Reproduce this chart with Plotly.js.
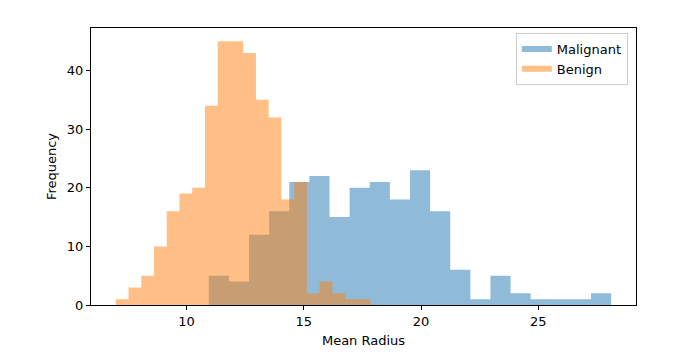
<!DOCTYPE html>
<html>
<head>
<meta charset="utf-8">
<script src="https://cdn.plot.ly/plotly-3.0.1.min.js"></script>
<style>html,body{margin:0;padding:0;background:#fff;}</style>
</head>
<body>
<div id="chart" style="width:700px;height:359px;"></div>
<script>
// Histogram counts (20 bins each) for mean radius
const malignantRange = [10.95, 28.11];
const malignantCounts = [5, 4, 12, 16, 21, 22, 15, 20, 21, 18, 23, 16, 6, 1, 5, 2, 1, 1, 1, 2];
const benignRange = [6.981, 17.85];
const benignCounts = [1, 3, 5, 10, 16, 19, 20, 34, 45, 45, 43, 35, 32, 18, 21, 2, 4, 2, 1, 1];
const seriesNames = ["Malignant", "Benign"];
const xTicks = [10, 15, 20, 25];
const yTicks = [0, 10, 20, 30, 40];

// step outline from bin edges and counts
function steps(range, counts) {
  const w = (range[1] - range[0]) / counts.length;
  const x = [], y = [];
  for (let i = 0; i <= counts.length; i++) {
    x.push(range[0] + w * i);
    y.push(counts[Math.min(i, counts.length - 1)]);
  }
  return {x: x, y: y};
}
const m = steps(malignantRange, malignantCounts);
const b = steps(benignRange, benignCounts);

const font = {family: "DejaVu Sans, sans-serif", size: 13, color: "#000"};
const data = [
  {type: "scatter", mode: "none", name: seriesNames[0], x: m.x, y: m.y,
   line: {shape: "hv", width: 0}, fill: "tozeroy", fillcolor: "rgba(31,119,180,0.5)"},
  {type: "scatter", mode: "none", name: seriesNames[1], x: b.x, y: b.y,
   line: {shape: "hv", width: 0}, fill: "tozeroy", fillcolor: "rgba(255,127,14,0.5)"}
];
const layout = {
  width: 700, height: 359,
  margin: {l: 91, r: 64, t: 28, b: 54},
  paper_bgcolor: "#fff", plot_bgcolor: "#fff",
  font: font,
  showlegend: true,
  legend: {x: 0.985, y: 0.982, xanchor: "right", yanchor: "top",
    bordercolor: "#cccccc", borderwidth: 1, bgcolor: "rgba(255,255,255,0.8)",
    font: {family: "DejaVu Sans, sans-serif", size: 13, color: "#000"},
    traceorder: "normal", itemwidth: 30},
  xaxis: {range: [5.925, 29.17], tickvals: xTicks, ticktext: xTicks.map(String),
    showgrid: false, zeroline: false, showline: true, mirror: true, linecolor: "#000", linewidth: 1,
    ticks: "outside", ticklen: 4, tickcolor: "#000",
    title: {text: "Mean Radius", font: font, standoff: 8}},
  yaxis: {range: [0, 47.25], tickvals: yTicks, ticktext: yTicks.map(String),
    showgrid: false, zeroline: false, showline: true, mirror: true, linecolor: "#000", linewidth: 1,
    ticks: "outside", ticklen: 4, tickcolor: "#000",
    title: {text: "Frequency", font: font, standoff: 7}}
};
Plotly.newPlot("chart", data, layout, {displayModeBar: false, staticPlot: true});
</script>
</body>
</html>
